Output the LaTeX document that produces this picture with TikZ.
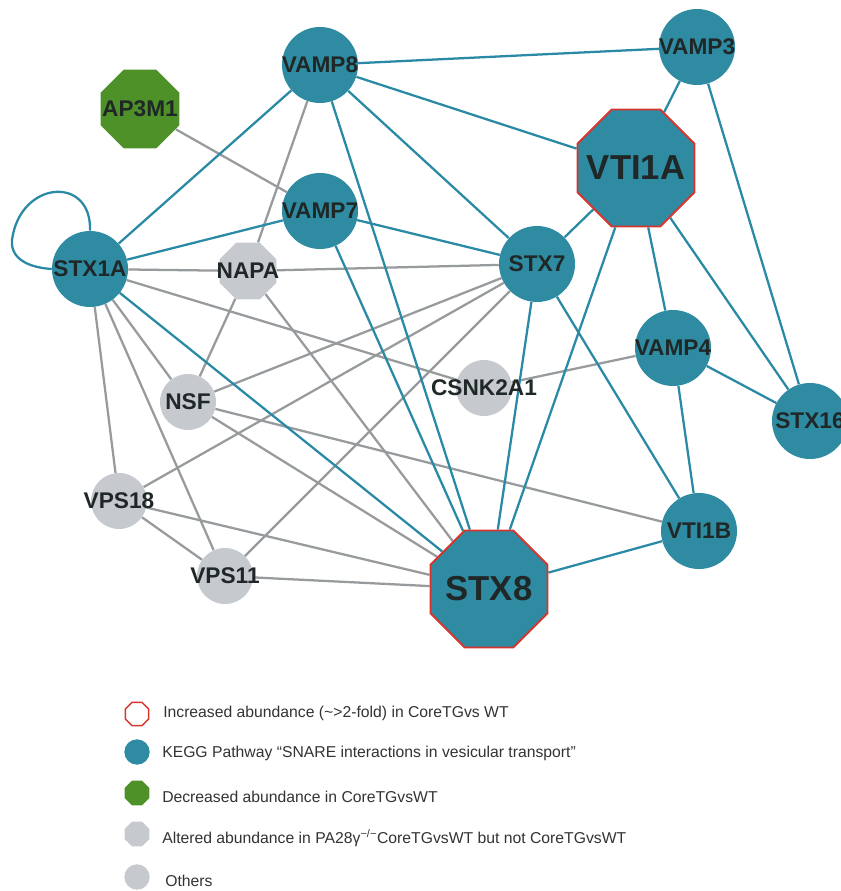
\documentclass[tikz,border=0pt]{standalone}
\usepackage{fontspec}
\setmainfont{Liberation Sans}
\usetikzlibrary{shapes.geometric,backgrounds}
\definecolor{tealfill}{HTML}{2E8BA2}
\definecolor{tealedge}{HTML}{2A8AA5}
\definecolor{grayedge}{HTML}{979B9D}
\definecolor{grayfill}{HTML}{C6CACF}
\definecolor{greenfill}{HTML}{4E9128}
\definecolor{redline}{HTML}{D6342C}
\definecolor{labelc}{HTML}{1F2727}
\definecolor{legc}{HTML}{333333}
\begin{document}
\begin{tikzpicture}[x=0.75pt,y=-0.75pt,
  lbl/.style={font=\bfseries\fontsize{17}{17}\selectfont, text=labelc, inner sep=0pt},
  biglbl/.style={font=\bfseries\fontsize{26}{26}\selectfont, text=labelc, inner sep=0pt},
  tcirc/.style={circle, fill=tealfill, draw=none, minimum size=57pt, inner sep=0pt},
  gcirc/.style={circle, fill=grayfill, draw=none, minimum size=42pt, inner sep=0pt},
  bigoct/.style={regular polygon, regular polygon sides=8, fill=tealfill, draw=redline, line width=1.4pt, minimum size=95pt, inner sep=0pt},
  greenoct/.style={regular polygon, regular polygon sides=8, fill=greenfill, draw=none, minimum size=64pt, inner sep=0pt},
  grayoct/.style={regular polygon, regular polygon sides=8, fill=grayfill, draw=none, minimum size=46pt, inner sep=0pt},
  tedge/.style={draw=tealedge, line width=1.7pt},
  gedge/.style={draw=grayedge, line width=1.7pt},
  legtext/.style={font=\fontsize{11.8}{14}\selectfont, text=legc, anchor=west, inner sep=0pt},
  legsym/.style={inner sep=0pt}
]
\useasboundingbox (0,0) rectangle (841,891);

% nodes
\node[tcirc, label={[lbl]center:VAMP8}] (VAMP8) at (320,65) {};
\node[greenoct, label={[lbl]center:AP3M1}] (AP3M1) at (140,109) {};
\node[tcirc, label={[lbl]center:VAMP3}] (VAMP3) at (697,47) {};
\node[bigoct, label={[biglbl]center:VTI1A}] (VTI1A) at (636,168) {};
\node[tcirc, label={[lbl]center:VAMP7}] (VAMP7) at (320,211) {};
\node[tcirc, label={[lbl]center:STX1A}] (STX1A) at (90,269) {};
\node[grayoct, label={[lbl]center:NAPA}] (NAPA) at (248,271) {};
\node[tcirc, label={[lbl]center:STX7}] (STX7) at (537,264) {};
\node[tcirc, label={[lbl]center:VAMP4}] (VAMP4) at (673,348) {};
\node[gcirc, label={[lbl]center:CSNK2A1}] (CSNK2A1) at (484,388) {};
\node[tcirc, label={[lbl]center:STX16}] (STX16) at (810,421) {};
\node[gcirc, label={[lbl]center:NSF}] (NSF) at (188,402) {};
\node[gcirc, label={[lbl]center:VPS18}] (VPS18) at (119,501) {};
\node[tcirc, label={[lbl]center:VTI1B}] (VTI1B) at (699,531) {};
\node[gcirc, label={[lbl]center:VPS11}] (VPS11) at (225,576) {};
\node[bigoct, label={[biglbl]center:STX8}] (STX8) at (489,589) {};

\begin{pgfonlayer}{background}
\fill[white] (0,0) rectangle (841,891);
% gray edges
\foreach \a/\b in {AP3M1/VAMP7, VAMP8/NAPA, STX1A/NAPA, NAPA/STX7, NAPA/NSF, NAPA/STX8,
  STX1A/CSNK2A1, CSNK2A1/VAMP4, STX1A/NSF, STX1A/VPS18, STX1A/VPS11,
  NSF/STX7, NSF/VTI1B, NSF/STX8, VPS18/STX7, VPS18/STX8, VPS18/VPS11,
  VPS11/STX7, VPS11/STX8}
  \draw[gedge] (\a) -- (\b);
% teal edges
\foreach \a/\b in {VAMP8/VAMP3, VAMP8/VTI1A, VAMP8/STX7, VAMP8/STX1A, VAMP8/STX8,
  VAMP7/STX1A, VAMP7/STX7, VAMP7/STX8, STX1A/STX8,
  STX7/VTI1A, STX7/STX8, STX7/VTI1B,
  VTI1A/VAMP3, VTI1A/STX8, VTI1A/VAMP4, VTI1A/STX16,
  VAMP3/STX16, VAMP4/STX16, VAMP4/VTI1B, STX8/VTI1B}
  \draw[tedge] (\a) -- (\b);
\draw[tedge] (STX1A.north) .. controls (92,175) and (20,180) .. (12,240)
  .. controls (10,262) and (35,268) .. (STX1A.west);
\end{pgfonlayer}

% legend
\node[legsym, regular polygon, regular polygon sides=8, draw=redline, fill=white, line width=1.1pt, minimum size=19pt] (L1) at (137,714) {};
\node[legtext] (T1) at (163,713) {Increased abundance (\textasciitilde>2-fold) in CoreTGvs WT};
\node[legsym, circle, fill=tealfill, minimum size=19pt] (L2) at (137,752) {};
\node[legtext] (T2) at (162,753) {KEGG Pathway “SNARE interactions in vesicular transport”};
\node[legsym, regular polygon, regular polygon sides=8, fill=greenfill, minimum size=20pt] (L3) at (137,793) {};
\node[legtext] (T3) at (162,797) {Decreased abundance in CoreTGvsWT};
\node[legsym, regular polygon, regular polygon sides=8, fill=grayfill, minimum size=20pt] (L4) at (137,834) {};
\node[legtext] (T4) at (162,838) {Altered abundance in PA28γ\textsuperscript{−/−}CoreTGvsWT but not CoreTGvsWT};
\node[legsym, circle, fill=grayfill, minimum size=19pt] (L5) at (137,877) {};
\node[legtext] (T5) at (165,881) {Others};
\end{tikzpicture}
\end{document}
